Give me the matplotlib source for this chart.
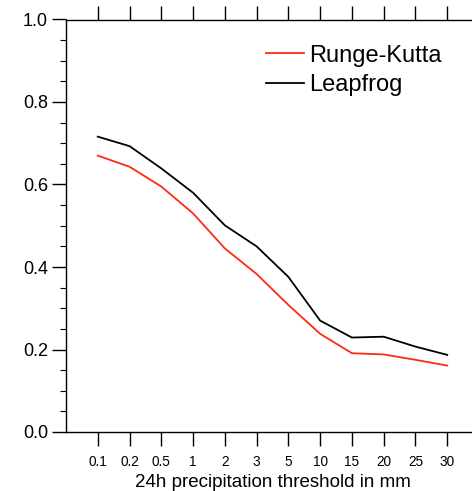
import matplotlib.pyplot as plt
from matplotlib.ticker import MultipleLocator

plt.rcParams['font.family'] = ['Liberation Sans', 'DejaVu Sans']

thresholds = ['0.1', '0.2', '0.5', '1', '2', '3', '5', '10', '15', '20', '25', '30']
runge_kutta = [0.670, 0.643, 0.595, 0.530, 0.445, 0.383, 0.308, 0.238, 0.191, 0.188, 0.175, 0.161]
leapfrog = [0.716, 0.693, 0.639, 0.580, 0.501, 0.450, 0.376, 0.270, 0.229, 0.231, 0.207, 0.187]

x = list(range(1, len(thresholds) + 1))

fig = plt.figure(figsize=(4.72, 4.91), dpi=100)
ax = fig.add_axes([66 / 472, 59 / 491, 413 / 472, 412.5 / 491])

ax.plot(x, runge_kutta, color='#ff2a10', lw=1.3, label='Runge-Kutta')
ax.plot(x, leapfrog, color='black', lw=1.3, label='Leapfrog')

ax.set_xlim(0, len(thresholds) + 1)
ax.set_ylim(0, 1.0)
ax.set_xticks(x)
ax.set_xticklabels(thresholds, fontsize=9.8)
ax.yaxis.set_major_locator(MultipleLocator(0.2))
ax.yaxis.set_minor_locator(MultipleLocator(0.05))
ax.set_yticklabels(['%.1f' % v for v in ax.get_yticks()])
ax.tick_params(axis='y', which='major', direction='out', length=10, width=1, labelsize=13, pad=3)
ax.tick_params(axis='y', which='minor', direction='out', length=4, width=0.8)
ax.tick_params(axis='x', which='major', direction='out', length=10, width=1, top=True, pad=6.5)
for s in ax.spines.values():
    s.set_linewidth(1)

ax.set_xlabel('24h precipitation threshold in mm', fontsize=13.5, labelpad=4)

ax.legend(loc='upper left', bbox_to_anchor=(0.462, 0.962), frameon=False, fontsize=17,
          handlelength=1.6, handletextpad=0.2, labelspacing=0.32, borderaxespad=0)

fig.savefig('out.png', dpi=100)
